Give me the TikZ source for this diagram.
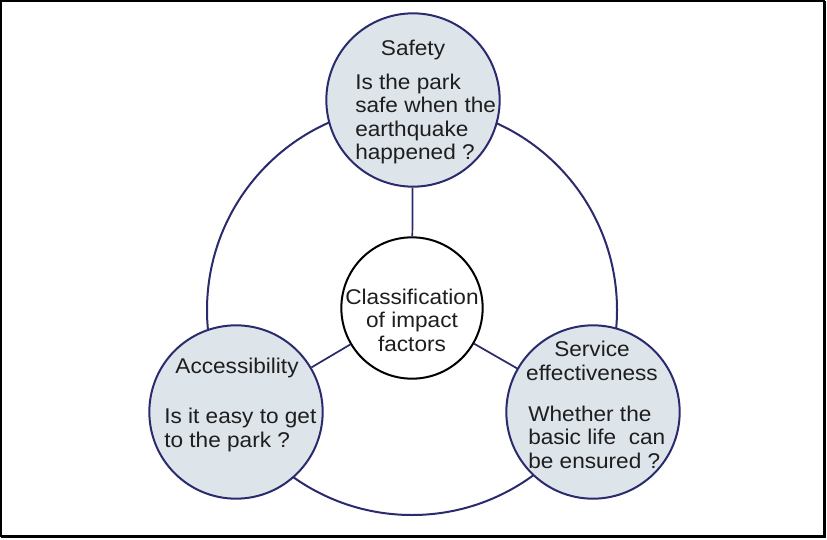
\documentclass[tikz,border=0pt]{standalone}
\usepackage{fontspec}
\setmainfont{Liberation Sans}[FakeStretch=1.06]
\usetikzlibrary{positioning}
\definecolor{ringblue}{RGB}{42,42,108}
\definecolor{bubblefill}{RGB}{221,228,234}
\definecolor{inktext}{RGB}{30,30,30}

\begin{document}
\begin{tikzpicture}[x=0.75pt,y=-0.75pt,
  bubble/.style={circle,draw=ringblue,line width=1.5pt,fill=bubblefill,minimum size=130pt,inner sep=0pt},
  corebubble/.style={circle,draw=black,line width=1.5pt,fill=white,minimum size=106pt,inner sep=0pt},
  link/.style={draw=ringblue,line width=1.3pt},
  label/.style={inner sep=0pt,text=inktext,font=\fontsize{16}{17.6}\selectfont},
  body/.style={label,align=left,anchor=west}]
  \useasboundingbox (0,0) rectangle (827,539);
  % frame with shadow
  \draw[line width=1.1pt] (1,1) rectangle (824,536);
  \draw[line width=2pt] (825,1)--(825,537)--(1,537);
  % outer ring
  \coordinate (ringc) at (412,310);
  \draw[ringblue,line width=1.5pt] (ringc) circle (205);
  % bubbles
  \node[bubble] (safety) at (413,100) {};
  \node[bubble] (access) at (236,412) {};
  \node[bubble] (service) at (593,412) {};
  \node[corebubble] (core) at (412,308) {};
  \draw[link] (core) -- (safety);
  \draw[link] (core) -- (access);
  \draw[link] (core) -- (service);
  % texts
  \node[label] (safetytitle) at (413,50) {Safety};
  \node[body] (safetytext) at (355,119) {Is the park\\safe when the\\earthquake\\happened ?};
  \node[label] (accesstitle) at (237,368) {Accessibility};
  \node[body] (accesstext) at (164,430) {Is it easy to get\\to the park ?};
  \node[label,align=center] (servicetitle) at (592,361) {Service\\effectiveness};
  \node[body] (servicetext) at (528,437) {Whether the\\basic life\ \ can\\be ensured ?};
  \node[label,align=center] (coretext) at (412,320) {Classification\\of impact\\factors};
\end{tikzpicture}
\end{document}
